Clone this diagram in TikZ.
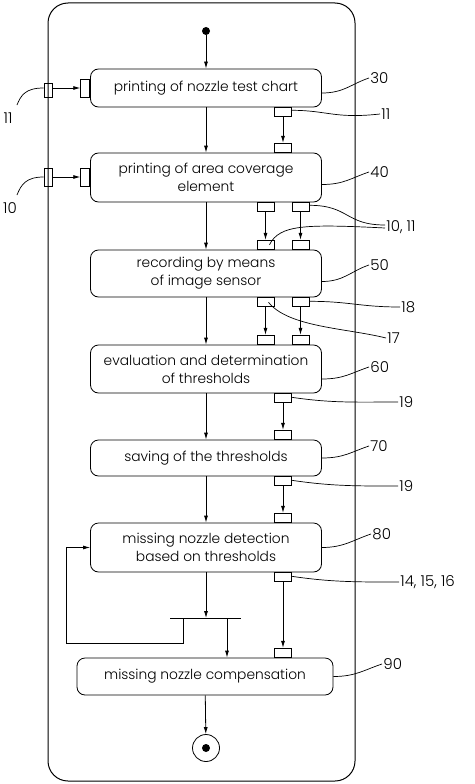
\documentclass[tikz,border=0pt]{standalone}
\usepackage{fontspec}
\setmainfont{Poppins}[UprightFont = * Light]
\usetikzlibrary{arrows.meta, positioning}

\begin{document}
\begin{tikzpicture}[> = {Latex[length=7pt,width=4pt]}, % arrow head style
                x = 1pt, y = -1pt, % pixel grid, y runs downwards
                line width = 0.8pt, % line style
                font = \fontsize{13.8}{18}\selectfont
            ]

            \tikzstyle{stepbox}=[draw = black, rounded corners = 8pt, align = center,
            minimum width = 231pt, inner sep = 0pt]
            \tikzstyle{port}=[draw = black, minimum width = 17pt, minimum height = 9pt,
            inner sep = 0pt]
            \tikzstyle{sideport}=[draw = black, minimum width = 9pt, minimum height = 18pt,
            inner sep = 0pt]
            \tikzstyle{refnum}=[anchor = west, inner sep = 1pt, font = \fontsize{15}{18}\selectfont]
            \tikzstyle{leader}=[line width = 0.7pt]

            \useasboundingbox (0,0) rectangle (474,784);

            % frame
            \draw[line width = 1pt, rounded corners = 20pt] (48,3) rectangle (355,781);

            % steps
            \node[stepbox, minimum height = 38pt] (30) at (206,88) {printing of nozzle test chart};
            \node[stepbox, minimum height = 49pt] (40) at (206,177.5) {printing of area coverage\\element};
            \node[stepbox, minimum height = 47pt] (50) at (206,273.5) {recording by means\\of image sensor};
            \node[stepbox, minimum height = 48pt] (60) at (206,369) {evaluation and determination\\of thresholds};
            \node[stepbox, minimum height = 36pt] (70) at (206,458) {saving of the thresholds};
            \node[stepbox, minimum height = 49pt] (80) at (206,547.5) {missing nozzle detection\\based on thresholds};
            \node[stepbox, minimum width = 256pt, minimum height = 37pt] (90) at (205,676.5) {missing nozzle compensation};

            \node[circle, fill, inner sep = 0pt, minimum size = 8pt] (start) at (206,31) {};
            \node[circle, draw, inner sep = 0pt, minimum size = 27pt] (stop) at (206,748) {};
            \node[circle, fill, inner sep = 0pt, minimum size = 8pt] (stopdot) at (stop) {};

            % main flow
            \draw[->] (start) -- (30);
            \foreach \a/\b in {30/40, 40/50, 50/60, 60/70, 70/80}
                \draw[->] (\a) -- (\b);
            \draw[->] (90) -- (stop);

            % fork with loop back
            \coordinate (fork) at (206,618);
            \coordinate (forkL) at (170,618);
            \coordinate (forkR) at (241,618);
            \coordinate (loop) at (183,618);
            \coordinate (down) at (227,618);
            \draw[->] (80) -- (fork);
            \draw[line width = 1pt] (forkL) -- (forkR);
            \draw[->] (loop) |- (66,643) |- (80.west);
            \draw[->] (down) -- (down |- 90.north);

            % side inputs
            \node[draw = black, minimum width = 8pt, minimum height = 14pt, inner sep = 0pt] (f11) at (48,90) {};
            \node[draw = black, minimum width = 8pt, minimum height = 18pt, inner sep = 0pt] (f10) at (48,177) {};
            \node[sideport, anchor = east] (30l) at (30.west |- 0,88) {};
            \node[sideport, anchor = east] (40l) at (40.west |- 0,177) {};
            \draw[->] (f11.east |- 0,88) -- (30l);
            \draw[->] (f10) -- (40l);

            % object ports
            \coordinate (mid) at (283,0);
            \coordinate (lft) at (265.5,0);
            \coordinate (rgt) at (300.5,0);
            \node[port, anchor = north] (30o) at (30.south -| mid) {};
            \node[port, anchor = south] (40i) at (40.north -| mid) {};
            \node[port, anchor = north] (40a) at (40.south -| lft) {};
            \node[port, anchor = north] (40b) at (40.south -| rgt) {};
            \node[port, anchor = south] (50a) at (50.north -| lft) {};
            \node[port, anchor = south] (50b) at (50.north -| rgt) {};
            \node[port, anchor = north] (50c) at (50.south -| lft) {};
            \node[port, anchor = north] (50d) at (50.south -| rgt) {};
            \node[port, anchor = south] (60a) at (60.north -| lft) {};
            \node[port, anchor = south] (60b) at (60.north -| rgt) {};
            \node[port, anchor = north] (60o) at (60.south -| mid) {};
            \node[port, anchor = south] (70i) at (70.north -| mid) {};
            \node[port, anchor = north] (70o) at (70.south -| mid) {};
            \node[port, anchor = south] (80i) at (80.north -| mid) {};
            \node[port, anchor = north] (80o) at (80.south -| mid) {};
            \node[port, anchor = south] (90i) at (90.north -| mid) {};

            \path[->] (30o) edge (40i) (40a) edge (50a) (40b) edge (50b)
            (50c) edge (60a) (50d) edge (60b) (60o) edge (70i) (70o) edge (80i)
            (80o) edge (90i);

            % reference numbers
            \node[refnum] (n30) at (369,78) {30};
            \node[refnum] (n40) at (369,172) {40};
            \node[refnum] (n50) at (369,265) {50};
            \node[refnum] (n60) at (369,367) {60};
            \node[refnum] (n70) at (369,446) {70};
            \node[refnum] (n80) at (371,534) {80};
            \node[refnum] (n90) at (382,664) {90};
            \node[refnum] (n11a) at (380,114) {11};
            \node[refnum] (n1011) at (385,227) {10, 11};
            \node[refnum] (n18) at (400,307) {18};
            \node[refnum] (n17) at (386,338) {17};
            \node[refnum] (n19a) at (398,402) {19};
            \node[refnum] (n19b) at (398,486) {19};
            \node[refnum] (n14) at (399,582) {14, 15, 16};
            \node[refnum, anchor = center] (n11) at (8,118) {11};
            \node[refnum, anchor = center] (n10) at (10,208) {10};

            \draw[leader] ([yshift = -5pt]30.east) .. controls +(22,0) and +(-18,6) .. (n30.west);
            \draw[leader] ([yshift = -7pt]40.east) .. controls +(22,0) and +(-18,6) .. (n40.west);
            \draw[leader] ([yshift = -8pt]50.east) .. controls +(22,0) and +(-18,6) .. (n50.west);
            \draw[leader] ([yshift = -10pt]60.east) .. controls +(22,0) and +(-18,6) .. (n60.west);
            \draw[leader] (70.east) .. controls +(22,0) and +(-18,6) .. (n70.west);
            \draw[leader] (80.east) .. controls +(22,0) and +(-18,6) .. (n80.west);
            \draw[leader] (90.east) .. controls +(22,0) and +(-18,6) .. (n90.west);
            \draw[leader] ([yshift = 2pt]30o.east) .. controls +(35,0) and +(-45,5) .. (n11a.west);
            \draw[leader] ([yshift = 2pt]40b.east) .. controls +(40,0) and +(-40,0) .. ([yshift = 2pt]n1011.west);
            \draw[leader] ([xshift = 4pt]50a.center) .. controls +(10,-20) and +(-80,-4) .. ([yshift = -1pt]n1011.west);
            \draw[leader] ([yshift = 1pt]50d.east) .. controls +(40,0) and +(-40,0) .. (n18.west);
            \draw[leader] ([xshift = 3pt]50c.center) .. controls +(20,25) and +(-40,-10) .. (n17.west);
            \draw[leader] ([yshift = 1pt]60o.east) .. controls +(40,6) and +(-40,0) .. (n19a.west);
            \draw[leader] ([yshift = 1pt]70o.east) .. controls +(40,6) and +(-40,0) .. (n19b.west);
            \draw[leader] ([yshift = 1pt]80o.east) .. controls +(40,6) and +(-40,0) .. (n14.west);
            \draw[leader] (f11.west |- 0,88) .. controls +(-18,0) and +(4,-10) .. (17,105);
            \draw[leader] (f10.west) .. controls +(-18,0) and +(4,-10) .. (17,195);
        \end{tikzpicture}
\end{document}
